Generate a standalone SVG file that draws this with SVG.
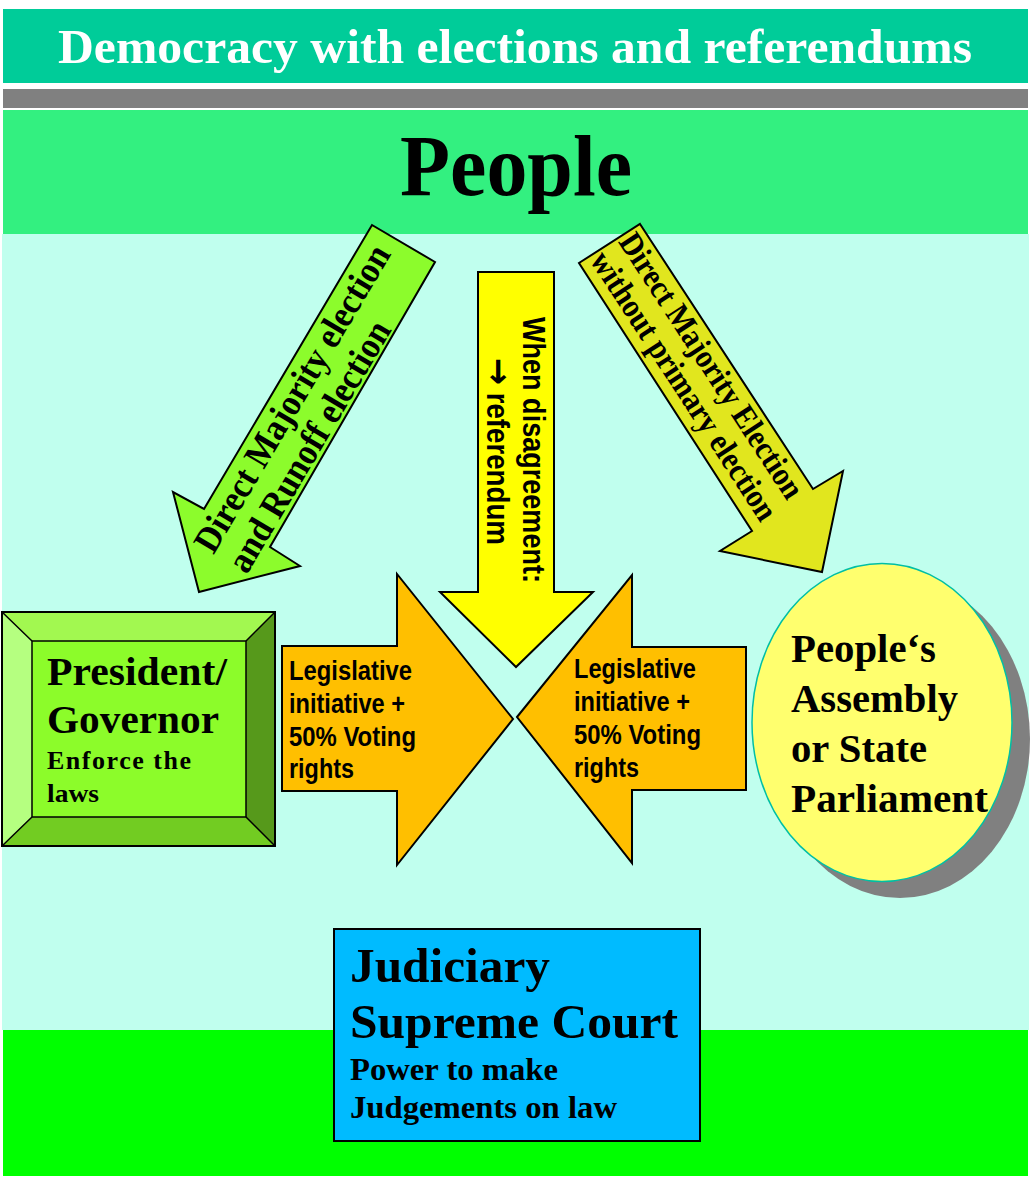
<svg xmlns="http://www.w3.org/2000/svg" width="1034" height="1180" viewBox="0 0 1034 1180">
<style>
.serif{font-family:"Liberation Serif","Times New Roman",serif;font-weight:bold;fill:#000}
.sans{font-family:"Liberation Sans",Arial,sans-serif;font-weight:bold;fill:#000}
.edge{stroke:#000;stroke-width:2;stroke-linejoin:miter}
.orange{fill:#FFBF00}
</style>
<rect width="1034" height="1180" fill="#FFFFFF"/>
<g id="background">
<rect x="3" y="9" width="1025" height="74" fill="#00CC99"/>
<rect x="3" y="89" width="1025" height="19" fill="#808080"/>
<rect x="3" y="110" width="1025" height="124" fill="#33F080"/>
<rect x="2" y="234" width="1027" height="796" fill="#C0FFEE"/>
<rect x="3" y="1030" width="1025" height="146" fill="#00FF00"/>
</g>
<g id="title">
<text class="serif" x="58" y="63" font-size="49" style="fill:#FFFFFF" textLength="914" lengthAdjust="spacingAndGlyphs">Democracy with elections and referendums</text>
</g>
<g id="people">
<text class="serif" x="400" y="195" font-size="86" textLength="232" lengthAdjust="spacingAndGlyphs">People</text>
</g>
<g id="connectors">
<g id="arrow-left">
<polygon class="edge" fill="#8CFC2C" points="372,225 435,262 270,547 300,566 199,592 173,492 204,509"/>
<g transform="translate(403.5,243.5) rotate(-59.4)">
<text class="serif" x="-365" y="-5" font-size="37" textLength="350" lengthAdjust="spacingAndGlyphs">Direct Majority election</text>
<text class="serif" x="-365" y="34" font-size="37" textLength="285" lengthAdjust="spacingAndGlyphs">and Runoff election</text>
</g>
</g>
<g id="arrow-center">
<polygon class="edge" fill="#FFFF00" points="478,272 554,272 554,592 593,592 516,667 440,592 478,592"/>
<g transform="translate(523,450) rotate(90)">
<text class="sans" x="0" y="0" font-size="31" text-anchor="middle" textLength="266" lengthAdjust="spacingAndGlyphs">When disagreement:</text>
<text class="sans" x="1.5" y="36" font-size="31" text-anchor="middle" textLength="187" lengthAdjust="spacingAndGlyphs"><tspan font-family="DejaVu Sans" font-size="36">→</tspan> referendum</text>
</g>
</g>
<g id="arrow-right">
<polygon class="edge" fill="#E1E61E" points="640,224 813,489 843,471 822,572 720,551 752,531 579,263"/>
<g transform="translate(609.5,243.5) rotate(56.9)">
<text class="serif" x="3" y="-8" font-size="33" textLength="310" lengthAdjust="spacingAndGlyphs">Direct Majority Election</text>
<text class="serif" x="3" y="26" font-size="33" textLength="314" lengthAdjust="spacingAndGlyphs">without primary election</text>
</g>
</g>
<g id="arrow-orange-left">
<polygon class="edge orange" points="282,646 397,646 397,574 513,719 397,865 397,791 282,791"/>
<text class="sans" font-size="27"><tspan x="289" y="680" textLength="123" lengthAdjust="spacingAndGlyphs">Legislative</tspan><tspan x="289" y="713" textLength="116" lengthAdjust="spacingAndGlyphs">initiative +</tspan><tspan x="289" y="746" textLength="127" lengthAdjust="spacingAndGlyphs">50% Voting</tspan><tspan x="289" y="778" textLength="65" lengthAdjust="spacingAndGlyphs">rights</tspan></text>
</g>
<g id="arrow-orange-right">
<polygon class="edge orange" points="517,717 632,575 632,647 746,647 746,790 632,790 632,863"/>
<text class="sans" font-size="27"><tspan x="574" y="678" textLength="122" lengthAdjust="spacingAndGlyphs">Legislative</tspan><tspan x="574" y="711" textLength="116" lengthAdjust="spacingAndGlyphs">initiative +</tspan><tspan x="574" y="744" textLength="127" lengthAdjust="spacingAndGlyphs">50% Voting</tspan><tspan x="574" y="777" textLength="65" lengthAdjust="spacingAndGlyphs">rights</tspan></text>
</g>
</g>
<g id="president">
<rect x="2" y="612" width="273" height="234" fill="#8CFC2A"/>
<polygon points="2,612 275,612 246,641 32,641" fill="#A2F850"/>
<polygon points="2,612 32,641 32,817 2,846" fill="#B5FF80"/>
<polygon points="275,612 275,846 246,817 246,641" fill="#56991B"/>
<polygon points="2,846 32,817 246,817 275,846" fill="#72CC22"/>
<rect x="32" y="641" width="214" height="176" fill="#8CFC2A"/>
<g fill="none" stroke="#000" stroke-width="2">
<rect x="2" y="612" width="273" height="234"/>
<rect x="32" y="641" width="214" height="176" stroke-width="1.5"/>
<path d="M2,612 L32,641 M275,612 L246,641 M2,846 L32,817 M275,846 L246,817" stroke-width="1.5"/>
</g>
<text class="serif" x="47" y="685" font-size="39" textLength="180" lengthAdjust="spacingAndGlyphs">President/</text>
<text class="serif" x="47" y="733" font-size="39" textLength="172" lengthAdjust="spacingAndGlyphs">Governor</text>
<text class="serif" x="47" y="769" font-size="26" textLength="144" lengthAdjust="spacing">Enforce the</text>
<text class="serif" x="47" y="802" font-size="26" textLength="52" lengthAdjust="spacingAndGlyphs">laws</text>
</g>
<g id="assembly">
<ellipse cx="900" cy="739" rx="130" ry="159" fill="#808080"/>
<ellipse cx="882" cy="722.5" rx="130" ry="159" fill="#FFFF6E" stroke="#00BFA5" stroke-width="1.5"/>
<text class="serif" x="791" y="662" font-size="41" textLength="145" lengthAdjust="spacingAndGlyphs">People‘s</text>
<text class="serif" x="791" y="712" font-size="41" textLength="167" lengthAdjust="spacingAndGlyphs">Assembly</text>
<text class="serif" x="791" y="762" font-size="41" textLength="136" lengthAdjust="spacingAndGlyphs">or State</text>
<text class="serif" x="791" y="812" font-size="41" textLength="197" lengthAdjust="spacingAndGlyphs">Parliament</text>
</g>
<g id="judiciary">
<rect x="334" y="929" width="366" height="212" fill="#00BBFF" stroke="#000" stroke-width="2"/>
<text class="serif" x="350" y="982" font-size="48" textLength="200" lengthAdjust="spacingAndGlyphs">Judiciary</text>
<text class="serif" x="350" y="1038" font-size="48" textLength="328" lengthAdjust="spacingAndGlyphs">Supreme Court</text>
<text class="serif" x="350" y="1080" font-size="31" textLength="208" lengthAdjust="spacingAndGlyphs">Power to make</text>
<text class="serif" x="350" y="1118" font-size="31" textLength="267" lengthAdjust="spacingAndGlyphs">Judgements on law</text>
</g>
</svg>
